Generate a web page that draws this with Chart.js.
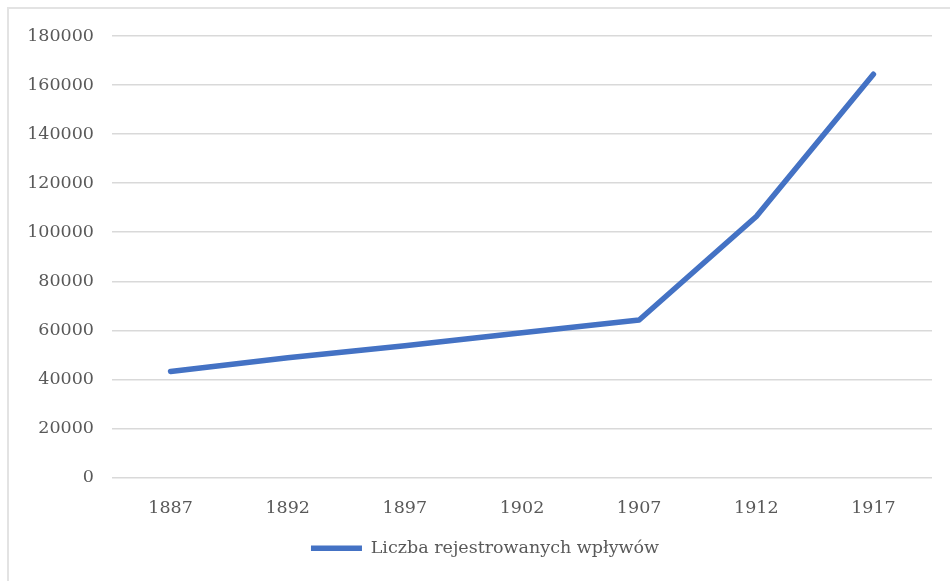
<!DOCTYPE html>
<html>
<head>
<meta charset="utf-8">
<script src="https://cdn.jsdelivr.net/npm/chart.js@4"></script>
<style>
  html, body { margin: 0; padding: 0; background: #fff; overflow: hidden; }
  #wrap { position: relative; width: 950px; height: 581px; }
  #frame { position: absolute; left: 7px; top: 7px; width: 960px; height: 600px; border: 2px solid #e3e3e3; box-sizing: border-box; }
  canvas { position: absolute; left: 0; top: 0; }
</style>
</head>
<body>
<div id="wrap">
  <div id="frame"></div>
  <canvas id="chart" width="950" height="581"></canvas>
</div>
<script>
const years = ['1887', '1892', '1897', '1902', '1907', '1912', '1917'];
const registered = [43200, 48800, 53700, 59000, 64200, 106400, 164400];
const seriesLabel = 'Liczba rejestrowanych wpływów';
const yMin = 0;
const yMax = 180000;
const yStep = 20000;

const textColor = '#595959';
const fontFamily = '"DejaVu Serif", "Liberation Serif", serif';

// nudge the legend a bit to the right, like in the original
const legendShift = {
  id: 'legendShift',
  afterLayout(chart) {
    chart.legend.left += 38;
  },
};

const ctx = document.getElementById('chart').getContext('2d');
const chart = new Chart(ctx, {
  type: 'line',
  data: {
    labels: years,
    datasets: [
      {
        label: seriesLabel,
        data: registered,
        borderColor: '#4472C4',
        backgroundColor: '#4472C4',
        borderWidth: 5.5,
        borderCapStyle: 'round',
        borderJoinStyle: 'round',
        pointRadius: 0,
        tension: 0,
        fill: false,
      },
    ],
  },
  plugins: [legendShift],
  options: {
    responsive: false,
    animation: false,
    layout: { padding: { top: 36, right: 18, bottom: 14, left: 0 } },
    plugins: {
      tooltip: { enabled: false },
      legend: {
        position: 'bottom',
        labels: {
          usePointStyle: true,
          pointStyle: 'line',
          pointStyleWidth: 51,
          color: textColor,
          font: { family: fontFamily, size: 17.5 },
          padding: 10,
        },
      },
    },
    scales: {
      x: {
        offset: true,
        grid: { display: false },
        border: { display: false },
        ticks: { color: textColor, font: { family: fontFamily, size: 17.5 }, padding: 12 },
        afterFit: scale => { scale.height = 52; },
      },
      y: {
        min: yMin,
        max: yMax,
        grid: { color: '#d9d9d9', lineWidth: 1.5, drawTicks: false },
        border: { display: false },
        ticks: {
          stepSize: yStep,
          color: textColor,
          font: { family: fontFamily, size: 17.5 },
          padding: 18,
          callback: value => String(value),
        },
        afterFit: scale => { scale.width = 112; },
      },
    },
  },
});
</script>
</body>
</html>
